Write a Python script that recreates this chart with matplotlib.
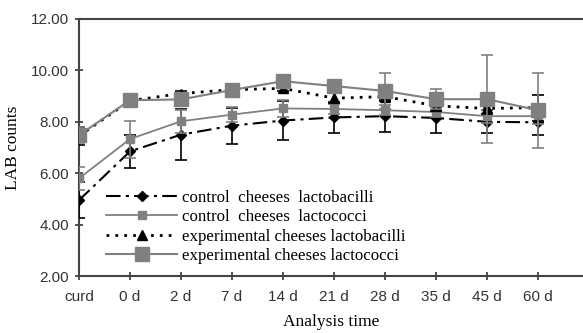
import matplotlib.pyplot as plt
from matplotlib.ticker import FormatStrFormatter

days = ["curd", "0 d", "2 d", "7 d", "14 d", "21 d", "28 d", "35 d", "45 d", "60 d"]

ctrl_lactobacilli = [4.95, 6.85, 7.50, 7.85, 8.05, 8.17, 8.22, 8.15, 8.00, 7.98]
ctrl_lactobacilli_err = [0.70, 0.65, 1.00, 0.70, 0.75, 0.60, 0.60, 0.60, 0.45, 0.50]

ctrl_lactococci = [5.80, 7.33, 8.02, 8.28, 8.52, 8.50, 8.45, 8.38, 8.22, 8.22]
ctrl_lactococci_err = [0.45, 0.72, 0.45, 0.30, 0.33, 0.20, 0.20, 0.20, 0.25, 0.30]

exp_lactobacilli = [7.45, 8.82, 9.10, 9.25, 9.30, 8.92, 8.98, 8.62, 8.52, 8.55]
exp_lactobacilli_err = [0.35, 0.10, 0.10, 0.10, 0.10, 0.20, 0.15, 0.20, 0.20, 0.50]

exp_lactococci = [7.48, 8.84, 8.87, 9.24, 9.58, 9.39, 9.20, 8.88, 8.88, 8.45]
exp_lactococci_err = [0.30, 0.10, 0.15, 0.10, 0.10, 0.10, 0.70, 0.40, 1.70, 1.45]

GRAY = "#808080"
serif = "Liberation Serif"
sans = "Liberation Sans"

fig = plt.figure(figsize=(5.83, 3.33), dpi=100)
ax = fig.add_axes([0.1355, 0.171, 0.8645, 0.772])
x = list(range(len(days)))

series = [
    (ctrl_lactobacilli, ctrl_lactobacilli_err, "black", (0, (7, 2.5, 1.5, 2.5)), 1.5, "D", 5.5,
     "control  cheeses  lactobacilli"),
    (ctrl_lactococci, ctrl_lactococci_err, GRAY, "-", 1.3, "s", 6,
     "control  cheeses  lactococci"),
    (exp_lactobacilli, exp_lactobacilli_err, "black", (0, (1, 2.2)), 2, "^", 7,
     "experimental cheeses lactobacilli"),
    (exp_lactococci, exp_lactococci_err, GRAY, "-", 1.5, "s", 10,
     "experimental cheeses lactococci"),
]

for i, (vals, err, col, ls, lw, mk, ms, lab) in enumerate(series):
    z = 3 + i
    # error bars first, kept out of the legend
    ax.errorbar(x, vals, yerr=err, fmt="none", ecolor=col, elinewidth=1.2,
                capsize=4.5, capthick=1.2, zorder=z)
    ax.plot(x, vals, color=col, linestyle=ls, linewidth=lw, marker=mk,
            markersize=ms, label=lab, zorder=z)

ax.set_xlim(0, 9.88)
ax.set_ylim(2, 12)
ax.set_yticks([2, 4, 6, 8, 10, 12])
ax.yaxis.set_major_formatter(FormatStrFormatter("%.2f"))
ax.set_xticks(x)
ax.set_xticklabels(days)

for lab in ax.get_xticklabels() + ax.get_yticklabels():
    lab.set_fontfamily(sans)
    lab.set_fontsize(11)
    lab.set_color("#222222")

ax.tick_params(axis="both", direction="inout", length=6, width=1.2, colors="#333333")
ax.tick_params(axis="x", pad=7)
ax.tick_params(axis="y", pad=4)

for side in ["left", "bottom", "top"]:
    ax.spines[side].set_color("#444444")
    ax.spines[side].set_linewidth(1.5)
ax.spines["right"].set_visible(False)

ax.set_xlabel("Analysis time", fontfamily=serif, fontsize=12.5, labelpad=7)
ax.set_ylabel("LAB counts", fontfamily=serif, fontsize=12.5, labelpad=7)

leg = ax.legend(loc="lower left", bbox_to_anchor=(0.03, 0.0), frameon=False,
                prop={"family": serif, "size": 12.2}, handlelength=4.2,
                handletextpad=0.3, labelspacing=0.2, borderaxespad=0.3)

fig.savefig("out.png", dpi=100)
